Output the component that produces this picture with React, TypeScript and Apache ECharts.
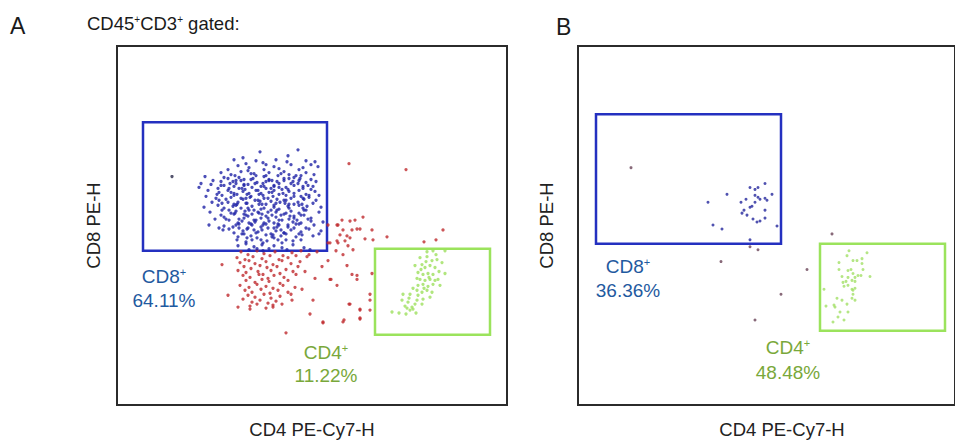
import React, { useEffect, useRef } from "react";
import * as echarts from "echarts";

// ---------- Panel A (CD45+CD3+ gated) : events, in plot channel units ----------
const aCd8Events: number[][] = [
  [143,256],[181,258],[171,252],[117,248],[126,250],[129,244],[139,247],[146,245],[159,248],[170,246],[189,247],[194,243],[198,246],
  [121,242],[132,240],[149,243],[157,241],[162,239],[174,243],[186,240],[201,241],[104,235],[111,238],[124,236],[131,237],[137,234],
  [147,238],[152,235],[167,236],[172,233],[182,238],[189,235],[197,233],
  [88,231],[107,230],[114,233],[122,230],[127,228],[139,232],[147,231],[152,228],[161,232],[167,229],[177,230],[184,232],[194,228],
  [84,224],[96,227],[104,226],[113,224],[119,227],[127,223],[134,228],[140,225],[149,226],[152,227],[162,224],[167,227],[176,226],[181,224],[189,225],[199,226],
  [82,220],[94,223],[101,219],[107,222],[117,221],[122,219],[131,223],[135,220],[144,221],[149,219],[157,222],[162,220],[171,218],[177,222],[186,221],[194,218],
  [91,217],[102,215],[111,217],[117,214],[126,216],[130,213],[139,217],[144,214],[152,215],[157,217],[166,214],[172,216],[182,217],[189,213],[198,216],
  [89,211],[99,209],[105,212],[114,210],[120,213],[129,209],[134,211],[142,213],[147,209],[156,211],[160,208],[169,212],[174,209],[184,211],[192,210],[202,212],
  [102,207],[111,205],[117,203],[126,208],[130,204],[141,207],[145,203],[154,206],[159,204],[167,207],[172,203],[181,205],[187,208],[196,204],
  [87,200],[101,202],[107,199],[116,201],[120,203],[131,199],[135,201],[144,198],[149,203],[157,200],[162,198],[171,201],[177,203],[186,199],[190,201],[204,200],
  [93,195],[105,197],[114,194],[119,196],[127,193],[132,197],[141,195],[145,193],[154,197],[159,195],[167,193],[174,196],[182,194],[189,197],[202,195],
  [107,190],[117,193],[122,188],[131,191],[135,193],[144,189],[149,191],[159,190],[164,192],[172,188],[177,191],[187,192],[194,189],
  [112,187],[121,184],[125,186],[134,183],[139,187],[147,184],[152,186],[161,183],[165,187],[176,185],[182,183],[194,186],[206,185],
  [92,182],[102,179],[107,181],[116,180],[122,183],[131,179],[135,182],[144,180],[149,183],[157,179],[162,182],[171,180],[179,183],[189,179],[197,182],
  [106,177],[117,174],[126,176],[130,178],[141,175],[145,177],[154,173],[159,176],[167,174],[174,177],[184,175],[192,178],[202,173],[204,176],
  [121,170],[125,173],[134,171],[140,169],[149,172],[155,170],[164,171],[169,173],[179,170],[185,172],[196,171],
  [120,167],[129,165],[135,167],[146,164],[150,166],[161,167],[165,164],[176,166],[184,167],
  [121,161],[129,163],[137,160],[145,162],[157,161],[165,159],[176,162],
  [132,157],[146,156],[152,158],[140,158],[170,157],[187,159],[193,157],
  [118,232],[134,234],[149,232],[164,234],[179,232],
  [111,229],[124,227],[136,229],[155,227],[172,229],[182,227],
  [104,222],[119,224],[127,222],[146,224],[157,221],[174,224],[191,222],
  [112,219],[128,218],[141,217],[154,219],[165,218],[186,219],
  [100,213],[117,212],[132,214],[146,212],[162,213],[177,214],[192,212],
  [109,208],[124,209],[138,207],[151,209],[169,207],[186,209],
  [105,204],[119,202],[129,204],[142,203],[157,202],[168,204],[182,202],
  [112,197],[124,199],[137,197],[147,199],[160,197],[172,199],[187,197],
  [104,192],[118,194],[129,192],[142,194],[155,192],[169,194],[184,192],
  [109,188],[127,189],[137,187],[151,189],[162,187],[177,189],[191,188],
  [119,182],[132,184],[146,182],[157,184],[171,182],[184,184],
  [112,178],[122,179],[137,177],[151,179],[164,177],[177,179],
  [127,173],[139,174],[156,172],[167,174],[182,173],
  [130,169],[144,167],[157,169],[169,167],
  [116,226],[138,224],[160,226],[183,229],[125,219],[147,221],[169,220],[133,210],[155,215],[177,211],
  [121,205],[143,206],[163,205],[185,203],[128,196],[151,195],[173,191],[138,185],[160,180],[180,187],
  [114,215],[196,221],[199,207],[95,205],[98,188],
];
const aOutlierEvents: number[][] = [[55,231]];
const aOtherEvents: number[][] = [
  [124,155],[131,152],[140,156],[147,153],[158,155],[166,151],[175,154],[184,156],[192,152],
  [120,149],[128,147],[136,150],[145,148],[153,151],[162,147],[171,149],[179,151],
  [123,144],[132,146],[138,143],[149,145],[156,142],[165,146],[174,143],[183,145],
  [127,140],[134,138],[143,141],[150,139],[160,140],[169,137],[181,140],
  [121,136],[129,134],[141,135],[146,132],[154,136],[163,133],[176,135],
  [126,131],[133,129],[142,132],[151,128],[157,131],[167,129],[179,132],
  [129,126],[138,124],[145,127],[152,125],[163,123],[171,126],
  [123,121],[132,119],[140,122],[149,120],[156,118],[166,121],[178,119],
  [128,116],[135,114],[144,117],[153,113],[161,116],[171,114],
  [131,111],[138,109],[147,112],[154,108],[163,110],[174,112],
  [126,107],[135,104],[143,106],[151,103],[159,105],
  [133,100],[140,102],[149,98],[156,101],
  [111,111],[105,142],[169,73],[193,92],[206,84],[226,84],[243,97],[243,87],[213,127],[240,131],
  [196,106],[233,102],[253,106],[185,117],[175,106],[165,102],[156,99],[133,97],[121,99],
  [225,187],[233,186],[238,187],[246,190],[221,182],[226,177],[235,177],[240,178],[243,178],[255,177],
  [223,172],[230,171],[233,169],[248,168],[256,167],[270,170],[213,164],[220,166],[228,166],[231,161],
  [236,157],[219,156],[226,152],[326,177],[307,165],[319,167],[211,146],[230,141],[235,132],[240,127],
  [214,127],[220,121],[255,133],[253,112],[232,102],[243,96],[253,96],[243,88],[227,86],[206,83],
  [211,182],[220,182],[211,164],[221,164],[232,244],[289,238],
  [190,150],[200,155],[205,140],[198,128],[188,135],
];
const aCd4Events: number[][] = [
  [316,156],[328,156],[303,149],[310,150],[315,146],[320,147],[325,144],[298,141],[305,142],[308,139],
  [313,141],[318,139],[301,134],[306,132],[311,133],[316,132],[328,133],[303,127],[308,126],[313,127],
  [318,126],[301,121],[306,122],[311,120],[316,122],[300,116],[305,114],[310,116],[315,114],[293,112],
  [286,112],[301,111],[306,107],[313,109],[291,104],[298,102],[305,102],[288,100],[295,99],[296,97],
  [293,96],[275,94],[282,93],[289,92],[323,121],[321,127],
  [309,145],[304,137],[312,129],[307,118],[300,106],[292,108],[296,118],[319,152],[322,135],[310,155],
  [300,128],[285,106],[290,98],[299,93],
];

// ---------- Panel B ----------
const bCd8Events: number[][] = [
  [130,205],[149,213],[135,182],[144,178],[163,205],[168,208],[172,220],[177,218],[180,220],[187,224],
  [177,212],[180,210],[182,208],[187,209],[189,207],[194,213],[177,205],[172,200],[174,201],[166,197],
  [164,194],[169,192],[187,197],[175,188],[179,185],[182,186],[187,189],[199,181],[172,167],
];
const bOtherEvents: number[][] = [
  [53,240],[172,160],[180,157],[254,173],[143,145],[229,137],[203,112],[177,86],
];
const bCd4Events: number[][] = [
  [271,156],[289,154],[269,151],[275,146],[279,146],[284,148],[261,144],[284,143],[270,136],[273,137],
  [261,137],[285,137],[275,133],[280,131],[283,131],[292,130],[264,130],[270,129],[277,129],[265,124],
  [268,125],[274,126],[277,125],[266,120],[270,121],[274,117],[275,116],[277,118],[246,117],[275,112],
  [274,108],[259,108],[264,106],[277,106],[269,102],[248,100],[256,101],[257,99],[262,94],[270,94],
  [260,89],[255,84],[266,86],
];

// ---------- Gates [x1,y1] - [x2,y2] ----------
const aCd8Gate = [[26, 156], [210, 286]];
const aCd4Gate = [[258, 71], [373, 158]];
const bCd8Gate = [[18, 163], [203, 294]];
const bCd4Gate = [[242, 75], [367, 163]];

const gatePercents = { aCd8: "64.11%", aCd4: "11.22%", bCd8: "36.36%", bCd4: "48.48%" };
const xAxisTitle = "CD4 PE-Cy7-H";
const yAxisTitle = "CD8 PE-H";

const FONT = "Liberation Sans, Arial, Helvetica, sans-serif";
const BLUE_TXT = "#1f5aa0";
const GREEN_TXT = "#79a83a";
const BLUE_GATE = "#2430c0";
const GREEN_GATE = "#9be35c";

function gateSeries(gate: number[][], color: string, xi: number, yi: number) {
  return {
    type: "scatter",
    xAxisIndex: xi,
    yAxisIndex: yi,
    data: [],
    silent: true,
    markArea: {
      silent: true,
      itemStyle: { color: "rgba(0,0,0,0)", borderColor: color, borderWidth: 2.5 },
      label: { show: false },
      data: [[{ coord: gate[0] }, { coord: gate[1] }]],
    },
  };
}

function dots(data: number[][], color: string, xi: number, yi: number, size = 3.3) {
  return {
    type: "scatter",
    xAxisIndex: xi,
    yAxisIndex: yi,
    data,
    symbol: "circle",
    symbolSize: size,
    itemStyle: { color },
    silent: true,
  };
}

function gateLabel(x: number, y1: number, y2: number, name: string, pct: string, color: string) {
  return [
    {
      type: "text",
      x,
      y: y1,
      style: {
        text: `{m|${name}}{s|+}`,
        align: "center",
        verticalAlign: "middle",
        fill: color,
        rich: {
          m: { fontSize: 19, fontFamily: FONT, fill: color },
          s: { fontSize: 11, fontFamily: FONT, fill: color, padding: [0, 0, 9, 0] },
        },
      },
    },
    {
      type: "text",
      x,
      y: y2,
      style: { text: pct, align: "center", verticalAlign: "middle", fontSize: 19, fontFamily: FONT, fill: color },
    },
  ];
}

function axisPair(gridIndex: number, xmax: number, ymax: number) {
  const nameStyle = { fontSize: 18.5, fontFamily: FONT, color: "#222" };
  const hidden = { axisLine: { show: false }, axisTick: { show: false }, axisLabel: { show: false }, splitLine: { show: false } };
  return {
    x: { type: "value", gridIndex, min: 0, max: xmax, name: xAxisTitle, nameLocation: "middle", nameGap: 15, nameTextStyle: { ...nameStyle } as any, ...hidden },
    y: { type: "value", gridIndex, min: 0, max: ymax, name: yAxisTitle, nameLocation: "middle", nameRotate: 90, nameGap: 14, nameTextStyle: nameStyle, ...hidden },
  };
}

export default function App() {
  const ref = useRef<HTMLDivElement>(null);
  useEffect(() => {
    if (!ref.current) return;
    const chart = echarts.init(ref.current, undefined, { renderer: "svg" });
    const A = axisPair(0, 390, 363);
    const B = axisPair(1, 377, 363);
    B.y.nameGap = 22;
    A.x.nameTextStyle.padding = [0, 0, 0, 0];
    B.x.nameTextStyle.padding = [0, 0, 0, 31];
    chart.setOption({
      animation: false,
      backgroundColor: "#ffffff",
      grid: [
        { left: 117, top: 46, width: 390, height: 363, show: true, borderColor: "#2b2b2b", borderWidth: 2, backgroundColor: "transparent" },
        { left: 578, top: 46, right: 0, height: 363, show: true, borderColor: "#2b2b2b", borderWidth: 2, backgroundColor: "transparent" },
      ],
      xAxis: [A.x, B.x],
      yAxis: [A.y, B.y],
      series: [
        dots(aOtherEvents, "#bf2b2e", 0, 0),
        dots(aCd8Events, "#1f23a6", 0, 0),
        dots(aOutlierEvents, "#2a2a4a", 0, 0),
        dots(aCd4Events, "#9ee05e", 0, 0),
        gateSeries(aCd8Gate, BLUE_GATE, 0, 0),
        gateSeries(aCd4Gate, GREEN_GATE, 0, 0),
        dots(bOtherEvents, "#6a4458", 1, 1, 3),
        dots(bCd8Events, "#24279c", 1, 1, 3),
        dots(bCd4Events, "#a3e066", 1, 1, 3),
        gateSeries(bCd8Gate, BLUE_GATE, 1, 1),
        gateSeries(bCd4Gate, GREEN_GATE, 1, 1),
      ],
      graphic: [
        { type: "text", x: 10, y: 26, style: { text: "A", fontSize: 23, fontFamily: FONT, fill: "#1a1a1a", verticalAlign: "middle" } },
        { type: "text", x: 556, y: 27, style: { text: "B", fontSize: 23, fontFamily: FONT, fill: "#1a1a1a", verticalAlign: "middle" } },
        {
          type: "text",
          x: 87,
          y: 23,
          style: {
            text: "{m|CD45}{s|+}{m|CD3}{s|+}{m| gated:}",
            verticalAlign: "middle",
            rich: {
              m: { fontSize: 18.5, fontFamily: FONT, fill: "#1a1a1a" },
              s: { fontSize: 10, fontFamily: FONT, fill: "#1a1a1a", padding: [0, 0, 8, 0] },
            },
          },
        },
        ...gateLabel(164, 276, 300, "CD8", gatePercents.aCd8, BLUE_TXT),
        ...gateLabel(326, 352, 375, "CD4", gatePercents.aCd4, GREEN_TXT),
        ...gateLabel(628, 266, 290, "CD8", gatePercents.bCd8, BLUE_TXT),
        ...gateLabel(788, 347, 372, "CD4", gatePercents.bCd4, GREEN_TXT),
      ],
    });
    return () => chart.dispose();
  }, []);
  return <div ref={ref} style={{ position: "fixed", left: 0, top: 0, width: 955, height: 444 }} />;
}
